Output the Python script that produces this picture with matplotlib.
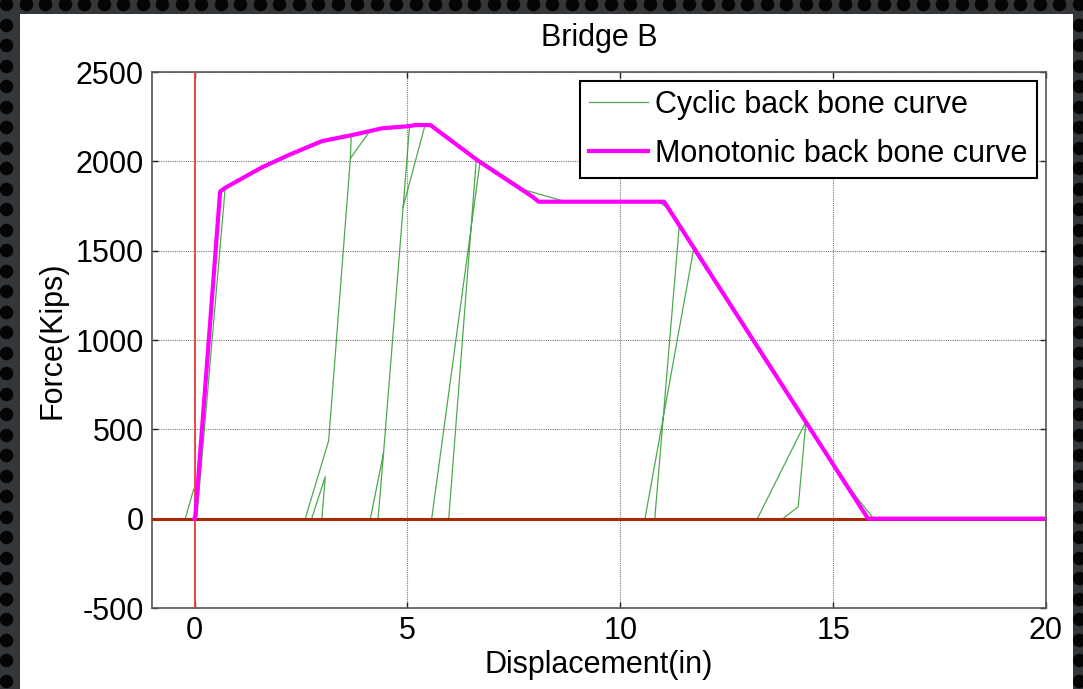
import numpy as np
import matplotlib
matplotlib.use('Agg')
import matplotlib.pyplot as plt
from matplotlib.patches import Rectangle

plt.rcParams['font.family'] = ['Liberation Sans', 'DejaVu Sans']
plt.rcParams['axes.unicode_minus'] = False

# monotonic back bone curve (in, kips)
mono_x = [0, 0.02, 0.60, 0.72, 1.58, 2.21, 2.99, 3.70, 4.41, 5.04, 5.19, 5.54,
          6.68, 7.95, 8.08, 11.03, 15.82, 20.0]
mono_y = [0, 20, 1830, 1852, 1966, 2035, 2113, 2147, 2185, 2197, 2203, 2203,
          2000, 1800, 1774, 1774, 0, 0]

# cyclic back bone curve, branches separated by nan
nan = np.nan
cyc_x = [-0.22, -0.02, nan,
         0.05, 0.72, 1.58, 2.21, 2.99, 3.68, nan,
         3.68, 3.66, 3.15, 2.60, nan,
         2.75, 3.07, 2.99, nan,
         3.66, 4.09, 4.41, 5.05, nan,
         5.05, 4.90, 4.44, 4.13, nan,
         4.31, 4.44, nan,
         4.90, 5.41, 5.54, 6.62, nan,
         6.62, 5.97, nan,
         5.57, 6.71, 7.77, 8.63, 10.92, 11.19, 11.39, nan,
         11.39, 10.81, nan,
         10.58, 11.72, nan,
         11.72, 14.36, nan,
         14.36, 14.18, 13.82, nan,
         13.22, 14.36, 15.42, 15.95]
cyc_y = [0, 165, nan,
         0, 1852, 1966, 2035, 2113, 2145, nan,
         2145, 2017, 437, 0, nan,
         0, 235, 0, nan,
         2017, 2160, 2185, 2197, nan,
         2197, 1746, 370, 0, nan,
         0, 370, nan,
         1746, 2200, 2203, 2017, nan,
         2017, 0, nan,
         0, 2005, 1839, 1780, 1770, 1727, 1653, nan,
         1653, 0, nan,
         0, 1504, nan,
         1504, 543, nan,
         543, 67, 0, nan,
         0, 543, 160, 0]

x_ticks = [0, 5, 10, 15, 20]
y_ticks = [-500, 0, 500, 1000, 1500, 2000, 2500]

fig = plt.figure(figsize=(10.83, 6.89), dpi=100)
fig.patch.set_facecolor('#34373a')

# dotted dark backdrop with a white panel
bg = fig.add_axes([0, 0, 1, 1], zorder=-10)
bg.set_xlim(0, 1083)
bg.set_ylim(689, 0)
bg.axis('off')
gx, gy = np.meshgrid(np.arange(6, 1083, 19.5), np.arange(4, 689, 20.5))
bg.scatter(gx.ravel(), gy.ravel(), s=95, color='#050505', linewidths=0)
bg.add_patch(Rectangle((20, 14), 1053, 680, facecolor='white', edgecolor='none'))

ax = fig.add_axes([152 / 1083, 81 / 689, 894 / 1083, 536 / 689])

ax.plot(cyc_x, cyc_y, color='#2f9a2f', lw=0.9, alpha=0.85,
        label='Cyclic back bone curve', zorder=3)
ax.axhline(0, color='#a82800', lw=2.2, zorder=4)
ax.axvline(0, color='#e8403a', lw=1.3, zorder=4)
ax.plot(mono_x, mono_y, color='#ff00ff', lw=3,
        label='Monotonic back bone curve', zorder=5)

ax.set_xlim(-1, 20)
ax.set_ylim(-500, 2500)
ax.set_xticks(x_ticks)
ax.set_yticks(y_ticks)
ax.tick_params(direction='in', length=4, width=1, labelsize=22,
               top=True, right=True, pad=6, colors='#222222', labelcolor='black')
ax.grid(True, color='#7a7a7a', linestyle=(0, (1, 1)), lw=0.8)
for s in ax.spines.values():
    s.set_color('#555555')
    s.set_linewidth(1.2)

ax.text(0.5, 1.0485, 'Bridge B', transform=ax.transAxes, ha='center',
        va='baseline', fontsize=22)
ax.set_xlabel('Displacement(in)', fontsize=22)
ax.set_ylabel('Force(Kips)', fontsize=22)
ax.xaxis.set_label_coords(0.5, -0.078)
ax.yaxis.set_label_coords(-0.094, 0.5)

leg = ax.legend(loc='upper right', bbox_to_anchor=(0.9896, 0.9838), fontsize=22,
                fancybox=False, framealpha=1, edgecolor='black',
                handlelength=1.9, handletextpad=0.25, borderpad=0.3,
                labelspacing=0.62, borderaxespad=0)
leg.get_frame().set_linewidth(1.5)

fig.savefig('out.png', dpi=100, facecolor=fig.get_facecolor())
